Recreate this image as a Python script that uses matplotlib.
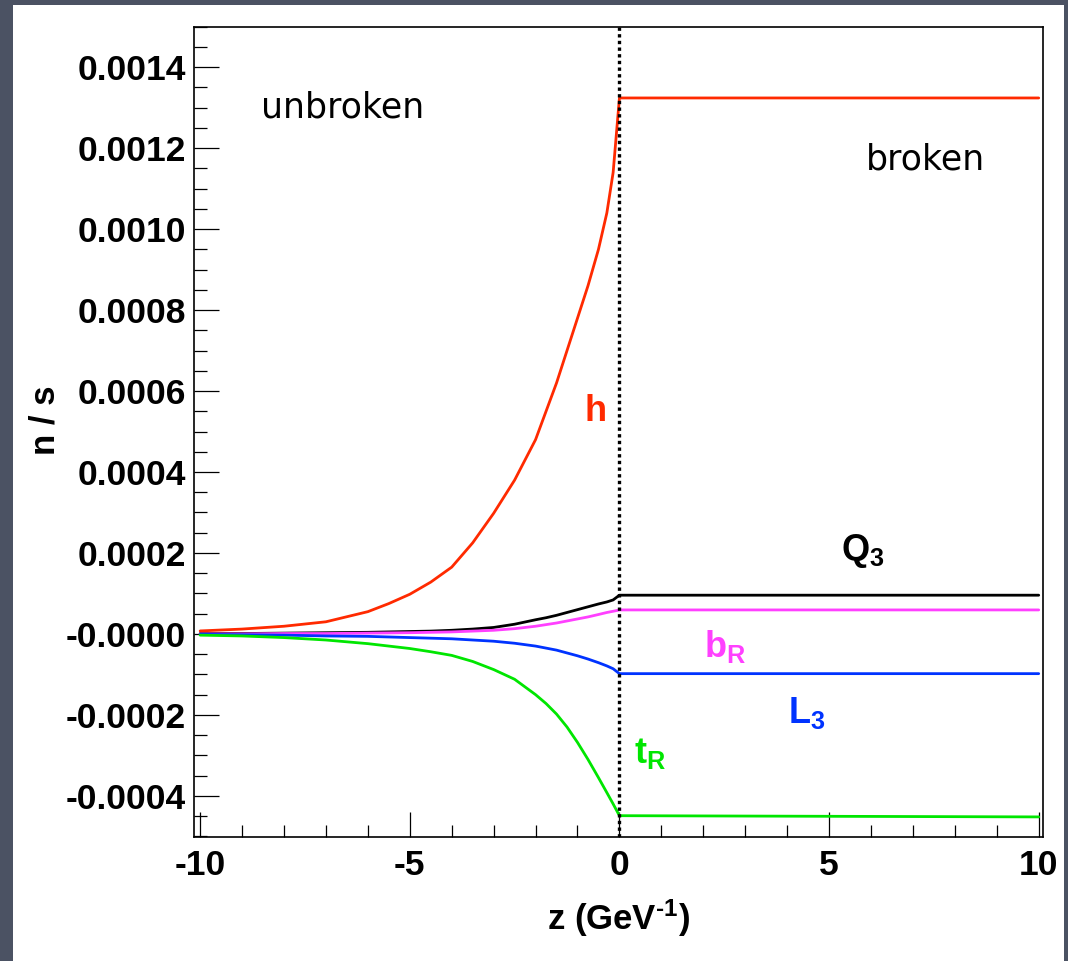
import matplotlib
matplotlib.use('Agg')
import matplotlib.pyplot as plt
from matplotlib.patches import Rectangle
from matplotlib.ticker import MultipleLocator, FixedLocator, FixedFormatter

plt.rcParams['font.family'] = ['Liberation Sans', 'DejaVu Sans']
plt.rcParams['font.weight'] = 'bold'
plt.rcParams['mathtext.fontset'] = 'custom'
plt.rcParams['mathtext.rm'] = 'Liberation Sans:bold'
plt.rcParams['mathtext.it'] = 'Liberation Sans:bold'
plt.rcParams['mathtext.bf'] = 'Liberation Sans:bold'

z = [-10, -9, -8, -7, -6, -5.5, -5, -4.5, -4, -3.5, -3, -2.5, -2, -1.75, -1.5, -1.25,
     -1, -0.75, -0.5, -0.3, -0.15, 0, 10]

h = [0.0000074, 0.000012, 0.000019, 0.000030, 0.000055, 0.000075, 0.000098, 0.000128,
     0.000165, 0.000225, 0.000298, 0.00038, 0.00048, 0.00055, 0.00062, 0.00070,
     0.00078, 0.00086, 0.00095, 0.00104, 0.00114, 0.001324, 0.001324]
Q3 = [0.000001, 0.000001, 0.000002, 0.000003, 0.000004, 0.000005, 0.000006, 0.000007,
      0.000009, 0.000012, 0.000016, 0.000024, 0.000035, 0.000040, 0.000046, 0.000053,
      0.000060, 0.000067, 0.000074, 0.000079, 0.000084, 0.0000957, 0.0000957]
bR = [0.0, 0.0, 0.000001, 0.000001, 0.000002, 0.0000025, 0.000003, 0.000004,
      0.000005, 0.000007, 0.000009, 0.000013, 0.000019, 0.000023, 0.000027, 0.000032,
      0.000037, 0.000042, 0.000048, 0.000053, 0.000056, 0.0000593, 0.0000593]
L3 = [-0.000001, -0.000002, -0.000003, -0.000005, -0.000006, -0.0000075, -0.000009, -0.0000105,
      -0.000012, -0.000015, -0.000018, -0.000023, -0.000030, -0.000035, -0.000040, -0.000047,
      -0.000054, -0.000062, -0.000071, -0.000079, -0.000086, -0.0000981, -0.0000981]
tR = [-0.000003, -0.000005, -0.000009, -0.000015, -0.000024, -0.000030, -0.000036, -0.000044,
      -0.000053, -0.000068, -0.000088, -0.000112, -0.000150, -0.000172, -0.000198, -0.000230,
      -0.000268, -0.000310, -0.000355, -0.000392, -0.000420, -0.000449, -0.000452]

y_ticks = [-0.0004, -0.0002, 0.0, 0.0002, 0.0004, 0.0006, 0.0008, 0.0010, 0.0012, 0.0014]
y_tick_labels = ['-0.0004', '-0.0002', '-0.0000', '0.0002', '0.0004', '0.0006',
                 '0.0008', '0.0010', '0.0012', '0.0014']
x_ticks = [-10, -5, 0, 5, 10]
x_tick_labels = ['-10', '-5', '0', '5', '10']

fig = plt.figure(figsize=(10.68, 9.61), dpi=100)
fig.patch.set_facecolor('#4b5263')
fig.add_artist(Rectangle((0.0122, 0.0), 0.9841, 0.9948, transform=fig.transFigure,
                         facecolor='white', edgecolor='none', zorder=0))

ax = fig.add_axes([0.1819, 0.1293, 0.795, 0.8429])
ax.set_facecolor('white')

style = dict(lw=2.0, solid_joinstyle='round', solid_capstyle='round')
ax.plot(z, h, color='#ff2a00', **style)
ax.plot(z, Q3, color='black', **style)
ax.plot(z, bR, color='#ff40ff', **style)
ax.plot(z, L3, color='#0033ff', **style)
ax.plot(z, tR, color='#00e600', **style)
ax.axvline(0, color='black', lw=2.4, linestyle=(0, (1, 1)))

ax.set_xlim(-10.14, 10.11)
ax.set_ylim(-0.000501, 0.0015)

ax.xaxis.set_major_locator(FixedLocator(x_ticks))
ax.xaxis.set_major_formatter(FixedFormatter(x_tick_labels))
ax.xaxis.set_minor_locator(MultipleLocator(1))
ax.yaxis.set_major_locator(FixedLocator(y_ticks))
ax.yaxis.set_major_formatter(FixedFormatter(y_tick_labels))
ax.yaxis.set_minor_locator(MultipleLocator(0.00005))

ax.tick_params(which='both', direction='in', top=False, right=False, width=0.9, labelsize=25.5)
ax.tick_params(which='major', length=18)
ax.tick_params(which='minor', length=9)
ax.tick_params(axis='y', pad=6)
ax.tick_params(axis='x', pad=9)
for s in ax.spines.values():
    s.set_linewidth(1.2)

fig.text(0.5794, 0.0447, r'z (GeV$^{\text{-1}}$)', ha='center', va='center', fontsize=25, fontweight='bold')
fig.text(0.042, 0.563, 'n / s', ha='center', va='center', rotation=90, fontsize=25, fontweight='bold')

# curve labels
ax.text(-0.57, 0.000549, 'h', color='#ff2a00', fontsize=26, ha='center', va='center')
ax.text(5.8, 0.000205, r'Q$_{3}$', color='black', fontsize=26, ha='center', va='center')
ax.text(2.53, -0.000030, r'b$_{R}$', color='#ff40ff', fontsize=26, ha='center', va='center')
ax.text(4.46, -0.000196, r'L$_{3}$', color='#0033ff', fontsize=26, ha='center', va='center')
ax.text(0.74, -0.000295, r't$_{R}$', color='#00e600', fontsize=26, ha='center', va='center')

ax.text(-6.59, 0.001300, 'unbroken', fontsize=25, fontweight='normal', family='DejaVu Sans',
        ha='center', va='center')
ax.text(7.3, 0.001172, 'broken', fontsize=25, fontweight='normal', family='DejaVu Sans',
        ha='center', va='center')

fig.savefig('out.png', dpi=100, facecolor=fig.get_facecolor())
